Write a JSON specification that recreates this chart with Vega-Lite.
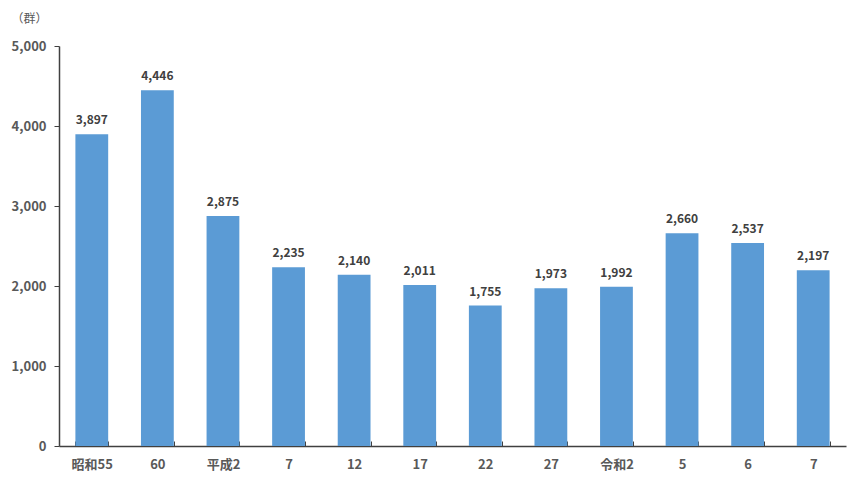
{
  "$schema": "https://vega.github.io/schema/vega-lite/v6.json",
  "autosize": {"type": "none"},
  "padding": {"left": 59, "top": 46, "right": 12, "bottom": 41},
  "width": 787,
  "height": 400,
  "background": "white",
  "config": {
    "view": {"stroke": null},
    "font": "Noto Sans CJK JP"
  },
  "data": {
    "values": [
      {"year": "昭和55", "count": 3897},
      {"year": "昭和60", "count": 4446},
      {"year": "平成2", "count": 2875},
      {"year": "平成7", "count": 2235},
      {"year": "平成12", "count": 2140},
      {"year": "平成17", "count": 2011},
      {"year": "平成22", "count": 1755},
      {"year": "平成27", "count": 1973},
      {"year": "令和2", "count": 1992},
      {"year": "令和5", "count": 2660},
      {"year": "令和6", "count": 2537},
      {"year": "令和7", "count": 2197}
    ]
  },
  "encoding": {
    "x": {
      "field": "year",
      "type": "nominal",
      "sort": null,
      "scale": {"paddingInner": 0.5, "paddingOuter": 0.25},
      "axis": {
        "title": null,
        "labelAngle": 0,
        "labelExpr": "datum.value == null ? '' : indexof(['昭和55','平成2','令和2'], datum.value) >= 0 ? datum.value : replace(replace(replace(datum.value,'昭和',''),'平成',''),'令和','')",
        "labelFontSize": 13,
        "labelFontWeight": "bold",
        "labelColor": "#595959",
        "labelPadding": 17,
        "tickBand": "extent",
        "tickSize": -5,
        "tickColor": "#404040",
        "domainColor": "#404040",
        "domainWidth": 1.5
      }
    },
    "y": {
      "field": "count",
      "type": "quantitative",
      "scale": {"domain": [0, 5000]},
      "axis": {
        "title": "（群）",
        "titleAngle": 0,
        "titleX": -30,
        "titleY": -28,
        "titleAlign": "center",
        "titleBaseline": "middle",
        "titleFontSize": 12,
        "titleFontWeight": "normal",
        "titleColor": "#595959",
        "values": [0, 1000, 2000, 3000, 4000, 5000],
        "format": ",.0f",
        "grid": false,
        "labelFontSize": 13,
        "labelFontWeight": "bold",
        "labelColor": "#595959",
        "labelPadding": 8,
        "tickSize": 5,
        "tickColor": "#404040",
        "domainColor": "#404040",
        "domainWidth": 1.5
      }
    }
  },
  "layer": [
    {"mark": {"type": "bar", "color": "#5B9BD5"}},
    {
      "mark": {"type": "text", "baseline": "bottom", "dy": -7, "fontSize": 12, "fontWeight": "bold", "color": "#404040"},
      "encoding": {"text": {"field": "count", "type": "quantitative", "format": ","}}
    }
  ]
}
